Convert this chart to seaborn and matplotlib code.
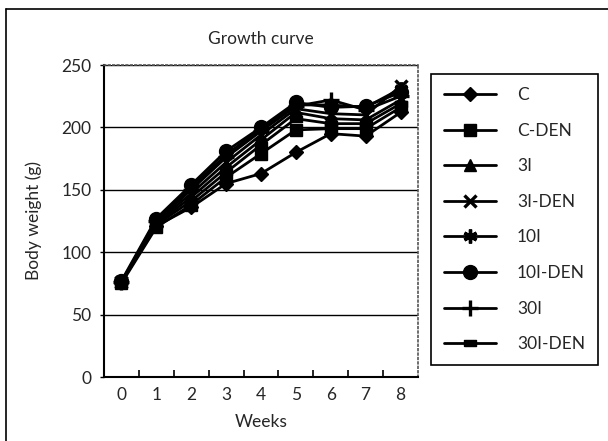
import matplotlib
matplotlib.use("Agg")
import matplotlib.pyplot as plt
from matplotlib.lines import Line2D
from matplotlib.ticker import FixedLocator
import pandas as pd
import seaborn as sns

weeks = [0, 1, 2, 3, 4, 5, 6, 7, 8]
groups = ["C", "C-DEN", "3I", "3I-DEN", "10I", "10I-DEN", "30I", "30I-DEN"]

c_vals = [76, 121, 136, 155, 163, 180, 195, 193, 212]
c_den_vals = [75, 120, 138, 160, 179, 198, 199, 199, 216]
i3_vals = [76, 123, 144, 168, 190, 212, 207, 206, 222]
i3_den_vals = [76, 124, 147, 172, 194, 215, 211, 210, 233]
i10_vals = [76, 126, 152, 178, 199, 218, 218, 216, 231]
i10_den_vals = [77, 127, 154, 181, 200, 220, 216, 217, 228]
i30_vals = [76, 125, 150, 176, 197, 217, 222, 214, 225]
i30_den_vals = [76, 122, 141, 164, 186, 207, 203, 203, 219]

series = [c_vals, c_den_vals, i3_vals, i3_den_vals,
          i10_vals, i10_den_vals, i30_vals, i30_den_vals]

rows = []
for g, vals in zip(groups, series):
    for w, v in zip(weeks, vals):
        rows.append({"Weeks": w, "weight": v, "group": g})
df = pd.DataFrame(rows)

sns.set_style("white")
plt.rcParams["font.family"] = ["Lato", "DejaVu Sans"]
FS = 12.5

fig = plt.figure(figsize=(6.08, 4.41), dpi=100)
ax = fig.add_axes([104 / 608, 1 - 377 / 441, 314 / 608, 312 / 441])

dash_box = [(-1, -0.45), (1, -0.45), (1, 0.45), (-1, 0.45), (-1, -0.45)]
markers = {"C": "D", "C-DEN": "s", "3I": "^", "3I-DEN": "x",
           "10I": (6, 2, 0), "10I-DEN": "o", "30I": "+", "30I-DEN": dash_box}
sizes = {"C": 7, "C-DEN": 9, "3I": 9, "3I-DEN": 9,
         "10I": 10, "10I-DEN": 10, "30I": 12, "30I-DEN": 9}
thick = ("3I-DEN", "10I", "30I")

sns.lineplot(data=df, x="Weeks", y="weight", hue="group", hue_order=groups,
             palette=["black"] * 8, linewidth=2, ax=ax, legend=False)

handles = []
for line, g in zip(ax.get_lines(), groups):
    line.set_marker(markers[g])
    line.set_markersize(sizes[g])
    line.set_markeredgewidth(2.4 if g in thick else 1)
    line.set_markeredgecolor("black")
    line.set_markerfacecolor("black")
    handles.append(Line2D([], [], color="black", linewidth=2, marker=markers[g],
                          markersize=sizes[g], markerfacecolor="black",
                          markeredgecolor="black",
                          markeredgewidth=2.4 if g in thick else 1))

ax.set_xlim(-0.5, 8.5)
ax.set_ylim(0, 250)
ax.set_xticks(weeks)
ax.xaxis.set_minor_locator(FixedLocator([w + 0.5 for w in weeks[:-1]]))
ax.tick_params(axis="x", which="major", length=0, labelsize=FS, pad=7)
ax.tick_params(axis="x", which="minor", direction="in", length=5, width=1.2,
               color="black", bottom=True)
ax.set_yticks([0, 50, 100, 150, 200, 250])
ax.tick_params(axis="y", which="major", direction="out", length=3, width=1,
               color="black", left=True, labelsize=FS, pad=6)

ax.yaxis.grid(True, color="black", linewidth=1)
ax.set_axisbelow(True)
for s in ("left", "bottom"):
    ax.spines[s].set_color("black")
    ax.spines[s].set_linewidth(1.5)
for s in ("top", "right"):
    ax.spines[s].set_color("#555555")
    ax.spines[s].set_linestyle(":")
    ax.spines[s].set_linewidth(1.2)

ax.set_xlabel("Weeks", fontsize=FS, labelpad=8)
ax.set_ylabel("Body weight (g)", fontsize=FS, labelpad=14)
ax.set_title("Growth curve", fontsize=FS, pad=15)

leg = ax.legend(handles, groups, loc="upper left",
                bbox_to_anchor=(431 / 608, 1 - 74 / 441), bbox_transform=fig.transFigure,
                frameon=True, fancybox=False, edgecolor="black", framealpha=1,
                fontsize=FS, handlelength=3.0, handletextpad=1.2,
                labelspacing=1.13, borderpad=0.75, borderaxespad=0)
leg.get_frame().set_linewidth(1.2)

# outer chart frame
fig.add_artist(Line2D([6 / 608, 6 / 608], [0, 1 - 9 / 441], color="black",
                      linewidth=1.2, transform=fig.transFigure))
fig.add_artist(Line2D([6 / 608, 1], [1 - 9 / 441, 1 - 9 / 441], color="black",
                      linewidth=1.2, transform=fig.transFigure))

fig.savefig("out.png", dpi=100)
